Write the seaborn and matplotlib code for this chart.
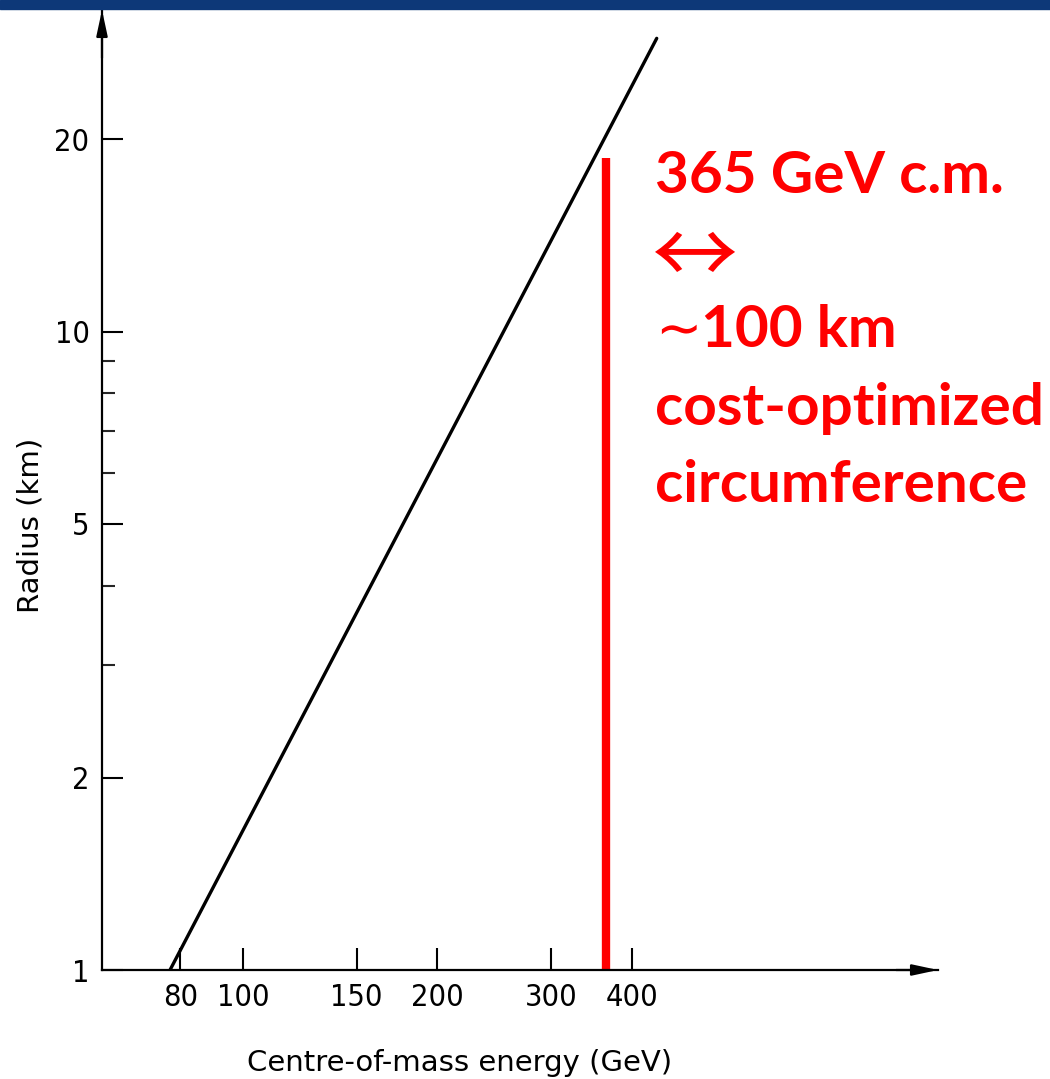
import matplotlib
matplotlib.use("Agg")
import matplotlib.pyplot as plt
from matplotlib.ticker import FixedLocator, NullLocator, NullFormatter
from matplotlib.patches import Rectangle
import seaborn as sns

# Radius of the collider ring versus centre-of-mass energy
energy_gev = [77.1, 437.0]
radius_km = [1.0, 28.8]

# Marked operating point
marker_energy = [365, 365]
marker_radius = [1.0, 18.7]

x_ticks = [80, 100, 150, 200, 300, 400]
x_tick_labels = ["80", "100", "150", "200", "300", "400"]
y_ticks = [1, 2, 5, 10, 20]
y_tick_labels = ["1", "2", "5", "10", "20"]
y_minor_ticks = [3, 4, 6, 7, 8, 9]

note_lines = ["365 GeV c.m.", "\u2194", "100 km", "cost-optimized", "circumference"]

sns.set_theme(style="white")
plt.rcParams["font.family"] = ["DejaVu Sans"]

W, H = 1050, 1079
fig = plt.figure(figsize=(W / 100, H / 100), dpi=100)

def px(x, y):
    return x / W, 1 - y / H

# axes box: left edge x=102, x tip 938, bottom y=970, top tip y=10
ax = fig.add_axes([102 / W, 1 - 970 / H, (938 - 102) / W, (970 - 10) / H])
ax.set_xscale("log")
ax.set_yscale("log")
ax.set_xlim(60.5, 1191)
ax.set_ylim(1, 31.9)

sns.lineplot(x=energy_gev, y=radius_km, ax=ax, color="black", lw=2.4,
             sort=False, estimator=None)
sns.lineplot(x=marker_energy, y=marker_radius, ax=ax, color="#ff0000", lw=6.0,
             sort=False, estimator=None, solid_capstyle="butt")

for side in ["top", "right"]:
    ax.spines[side].set_visible(False)
for side in ["left", "bottom"]:
    ax.spines[side].set_color("black")
    ax.spines[side].set_linewidth(1.6)

tick_font = dict(family="DejaVu Sans", stretch="condensed", size=22)
ax.xaxis.set_major_locator(FixedLocator(x_ticks))
ax.xaxis.set_minor_locator(NullLocator())
ax.xaxis.set_minor_formatter(NullFormatter())
ax.set_xticklabels(x_tick_labels, fontdict=tick_font)
ax.yaxis.set_major_locator(FixedLocator(y_ticks))
ax.yaxis.set_minor_locator(FixedLocator(y_minor_ticks))
ax.yaxis.set_minor_formatter(NullFormatter())
ax.set_yticklabels(y_tick_labels, fontdict=tick_font)

ax.tick_params(axis="x", which="major", direction="in", length=16, width=1.5,
               pad=9, colors="black", bottom=True)
ax.tick_params(axis="y", which="major", direction="in", length=15, width=1.5,
               pad=9, colors="black", left=True)
ax.tick_params(axis="y", which="minor", direction="in", length=9.5, width=1.5,
               left=True)

# arrow heads on both axes
arrow = dict(arrowstyle="-|>,head_length=1.3,head_width=0.28", color="black",
             lw=1.6, shrinkA=0, shrinkB=0)
ax.annotate("", xy=(1, 0), xytext=(0.95, 0), xycoords="axes fraction",
            textcoords="axes fraction", arrowprops=arrow, annotation_clip=False)
ax.annotate("", xy=(0, 1), xytext=(0, 0.95), xycoords="axes fraction",
            textcoords="axes fraction", arrowprops=arrow, annotation_clip=False)

label_font = dict(family="DejaVu Sans", size=21, color="black")
fig.text(*px(460, 1063), "Centre-of-mass energy (GeV)", ha="center",
         va="center", **label_font)
fig.text(*px(31, 525), "Radius (km)", ha="center", va="center",
         rotation=90, **label_font)

# header band
fig.patches.append(Rectangle((0, 1 - 9 / H), 1, 9 / H, transform=fig.transFigure,
                             color="#0d3878", zorder=5))

# red annotation
red = "#ff0000"
note_font = dict(family=["Lato", "DejaVu Sans"], weight="bold", size=42,
                 color=red)
fig.text(*px(655, 193), note_lines[0], ha="left", va="baseline", **note_font)
fig.text(*px(652, 260), note_lines[1], ha="left", va="center",
         family=["Noto Sans CJK SC", "DejaVu Sans"], size=62, color=red)
fig.text(*px(655, 347), "\u223c", ha="left", va="baseline",
         family="DejaVu Sans", size=40, color=red)
fig.text(*px(701, 347), note_lines[2], ha="left", va="baseline", **note_font)
fig.text(*px(655, 425), note_lines[3], ha="left", va="baseline", **note_font)
fig.text(*px(655, 502), note_lines[4], ha="left", va="baseline", **note_font)

fig.savefig("out.png", dpi=100, facecolor="white")
